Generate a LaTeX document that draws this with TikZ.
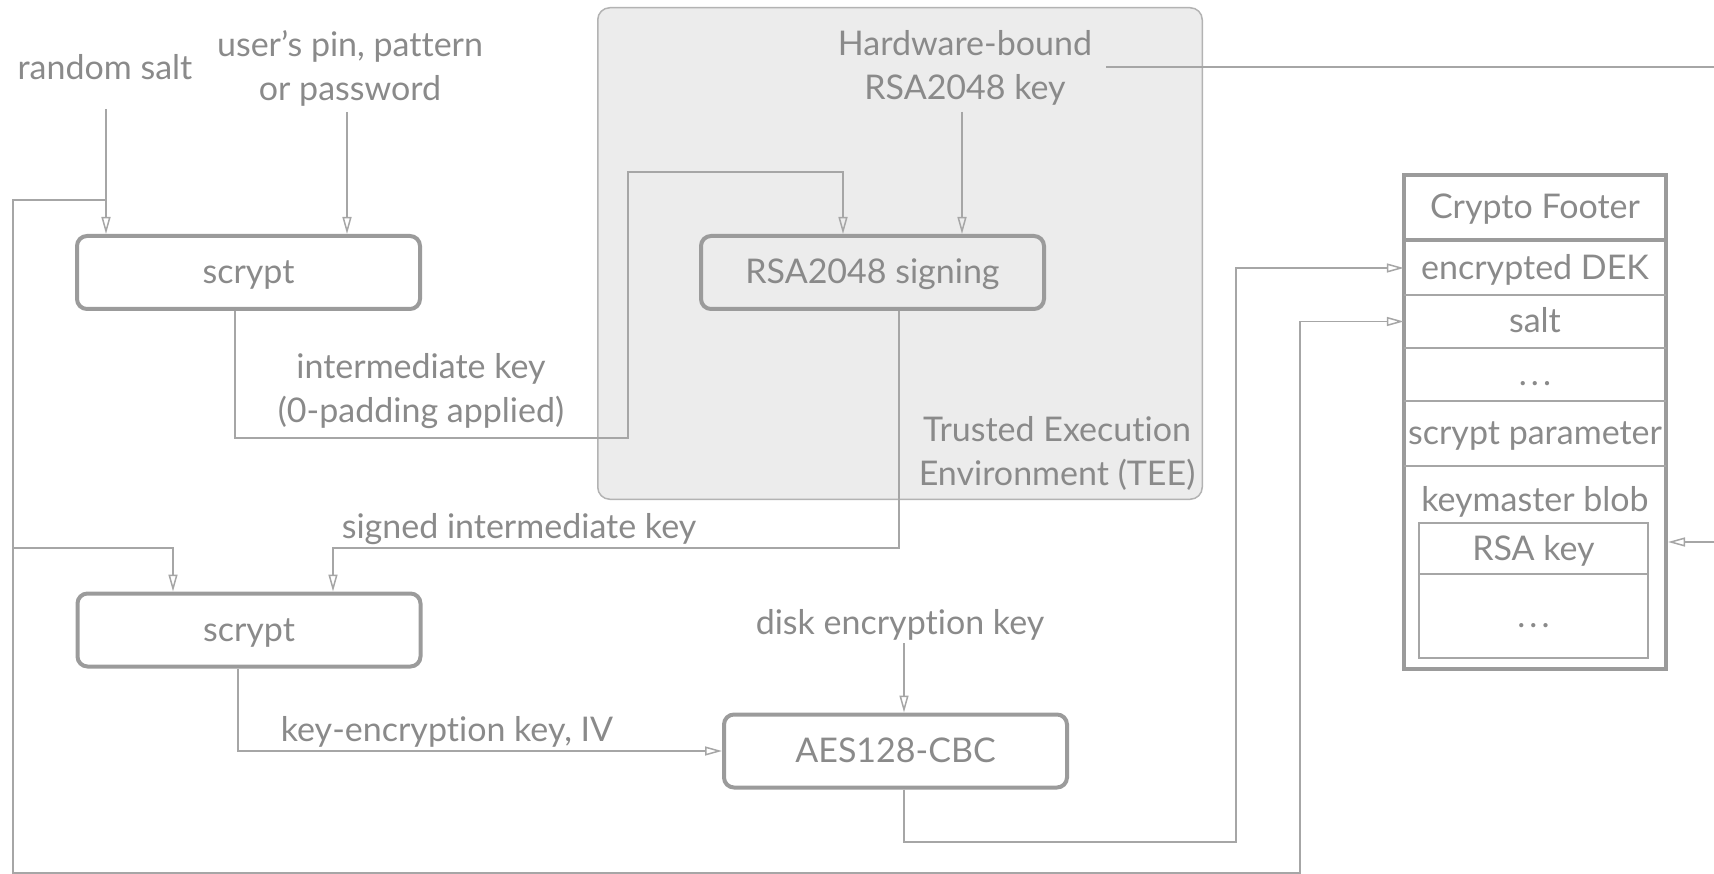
\documentclass[tikz,border=0pt]{standalone}
\usepackage{fontspec}
\setmainfont{Lato}[Ligatures=NoCommon]
\usetikzlibrary{arrows.meta}
\definecolor{txtgray}{HTML}{8A8A8A}
\definecolor{boxgray}{HTML}{9B9B9B}
\definecolor{linegray}{HTML}{A6A6A6}
\definecolor{teefill}{HTML}{ECECEC}
\definecolor{teeline}{HTML}{B3B3B3}
\newcommand\lblfont{\fontsize{34}{44}\selectfont}
\newcommand\spreaddots{.\kern4pt.\kern4pt.}
\tikzset{
  txt/.style={text=txtgray, font=\lblfont, inner sep=0pt},
  one/.style={txt, text height=28pt, text depth=5pt},
  two/.style={txt, align=center},
  procbox/.style={one, draw=boxgray, line width=4pt, rounded corners=10pt,
    minimum width=343pt, minimum height=73pt},
  teebox/.style={draw=teeline, fill=teefill, line width=1.5pt, rounded corners=12pt,
    minimum width=604.5pt, minimum height=491.5pt, inner sep=0pt},
  rowcell/.style={one, minimum width=262pt},
  wire/.style={draw=linegray, line width=1.5pt},
  arr/.style={wire, -{Triangle[open, length=17pt, width=9pt]}},
  thinframe/.style={draw=linegray, line width=1.5pt},
  thickframe/.style={draw=boxgray, line width=4pt},
}
\begin{document}
\begin{tikzpicture}[x=1pt, y=-1pt]
\useasboundingbox (0,0) rectangle (1714,874);

% trusted execution environment
\node[teebox] (tee) at (900,253.5) {};
\node[two] (teelbl) at (1057,453) {Trusted Execution\\Environment (TEE)};

% inputs
\node[one] (salt) at (105,68) {random salt};
\node[two] (pin) at (350,68) {user’s pin, pattern\\or password};
\node[two] (hw) at (965,68) {Hardware-bound\\RSA2048 key};
\node[one] (disk) at (900,623) {disk encryption key};

% processing steps
\node[procbox] (scrypt1) at (248.5,272.5) {scrypt};
\node[procbox] (rsa) at (872.5,272.5) {RSA2048 signing};
\node[procbox] (scrypt2) at (249,630) {scrypt};
\node[procbox] (aes) at (895.5,751) {AES128-CBC};

% edge labels
\node[two] (interm) at (421,391) {intermediate key\\(0-padding applied)};
\node[one] (signed) at (519,527) {signed intermediate key};
\node[one] (kek) at (447,730) {key-encryption key, IV};

% crypto footer layout
\node[thickframe, minimum width=262pt, minimum height=494pt, inner sep=0pt] (footer) at (1535,422) {};
\node[rowcell, minimum height=66pt] (head) at (1535,207) {Crypto Footer};
\node[rowcell, minimum height=54pt] (dekrow) at (1535,268) {encrypted DEK};
\node[rowcell, minimum height=53pt] (saltrow) at (1535,321.5) {salt};
\node[rowcell, minimum height=53pt] (dotrow) at (1535,374.5) {\spreaddots};
\node[rowcell, minimum height=65pt] (paramrow) at (1535,433.5) {scrypt parameter};
\node[one] (blob) at (1535,500) {keymaster blob};
\node[one, thinframe, minimum width=229pt, minimum height=51pt] (rsakey) at (1533.5,548.5) {RSA key};
\node[one, thinframe, minimum width=229pt, minimum height=84pt] (kdots) at (1533.5,616) {\spreaddots};
\draw[thickframe] (head.south west) -- (head.south east);
\draw[thinframe] (dekrow.south west) -- (dekrow.south east);
\draw[thinframe] (saltrow.south west) -- (saltrow.south east);
\draw[thinframe] (dotrow.south west) -- (dotrow.south east);
\draw[thinframe] (paramrow.south west) -- (paramrow.south east);

% free ends of the connectors
\coordinate (saltsrc) at (106,109);
\coordinate (pinsrc) at (347,112);
\coordinate (hwsrc) at (962,112);
\coordinate (hwout) at (1106,67);
\coordinate (edgeout) at (1714,67);
\coordinate (edgein) at (1714,542);
\coordinate (disksrc) at (904,643);
\coordinate (saltsplit) at (106,200);
\coordinate (loopsplit) at (13,548);
\coordinate (s2salt) at (173,548);
\coordinate (s2key) at (333,548);

% key derivation
\draw[arr] (saltsrc) -- (saltsrc |- scrypt1.north);
\draw[arr] (pinsrc) -- (pinsrc |- scrypt1.north);
\draw[arr] (hwsrc) -- (hwsrc |- rsa.north);
\draw[wire] (hwout) -- (edgeout);
\draw[arr] ([xshift=-13.5pt]scrypt1.south) |- (628,438) |- (843,172) -- ([xshift=-29.5pt]rsa.north);
\draw[arr] ([xshift=26.5pt]rsa.south) |- (s2key) -- (s2key |- scrypt2.north);
\draw[arr] (saltsplit) -- (13,200) -- (13,873) -- (1300,873) |- (saltrow.west);
\draw[arr] (loopsplit) -- (s2salt) -- (s2salt |- scrypt2.north);
\draw[arr] ([xshift=-11pt]scrypt2.south) |- (aes.west);
\draw[arr] (disksrc) -- (disksrc |- aes.north);
\draw[arr] ([xshift=8.5pt]aes.south) |- (1236,842) |- (dekrow.west);
\draw[arr] (edgein) -- (edgein -| footer.east);
\end{tikzpicture}
\end{document}
